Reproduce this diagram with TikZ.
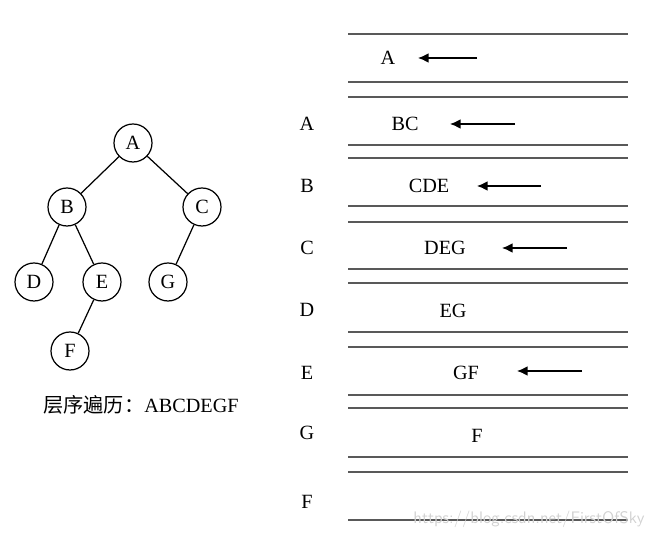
\documentclass[tikz,border=0pt]{standalone}
\usepackage{fontspec}
\setmainfont{Liberation Serif}
\newfontfamily\cjkfont{Noto Sans CJK SC}
\usepackage{tikz}
\usetikzlibrary{positioning,arrows.meta}

\begin{document}
\begin{tikzpicture}[
  x=0.02cm, y=-0.02cm,
  treeNode/.style={circle, draw, line width=0.7pt, minimum size=0.76cm,
                   inner sep=0pt, font=\fontsize{11.5}{13}\selectfont},
  queueLine/.style={draw=black!65, line width=0.85pt},
  queueText/.style={font=\fontsize{11.5}{13}\selectfont, inner sep=0pt},
  rowLabel/.style={font=\fontsize{11.5}{13}\selectfont, inner sep=0pt},
  headArrow/.style={-{Latex[length=6pt,width=5.5pt]}, line width=0.8pt},
  >=Latex
]
  \useasboundingbox (0,0) rectangle (650,540);

  % === Binary tree ===
  \node[treeNode] (tA) at (133,143) {A};
  \node[treeNode] (tB) at (67,207) {B};
  \node[treeNode] (tC) at (202,207) {C};
  \node[treeNode] (tD) at (34,282) {D};
  \node[treeNode] (tE) at (102,282) {E};
  \node[treeNode] (tG) at (168,282) {G};
  \node[treeNode] (tF) at (70,351) {F};
  \draw[line width=0.7pt] (tA) -- (tB) -- (tD);
  \draw[line width=0.7pt] (tB) -- (tE) -- (tF);
  \draw[line width=0.7pt] (tA) -- (tC) -- (tG);
  \node[font=\fontsize{11.5}{13}\selectfont] (caption) at (141,405)
    {{\cjkfont 层序遍历：}ABCDEGF};

  % === Queue snapshots ===
  \draw[queueLine] (348,34) -- (628,34);
  \draw[queueLine] (348,82) -- (628,82);
  \draw[queueLine] (348,97) -- (628,97);
  \draw[queueLine] (348,145) -- (628,145);
  \draw[queueLine] (348,158) -- (628,158);
  \draw[queueLine] (348,206) -- (628,206);
  \draw[queueLine] (348,222) -- (628,222);
  \draw[queueLine] (348,269) -- (628,269);
  \draw[queueLine] (348,283) -- (628,283);
  \draw[queueLine] (348,332) -- (628,332);
  \draw[queueLine] (348,347) -- (628,347);
  \draw[queueLine] (348,395) -- (628,395);
  \draw[queueLine] (348,408) -- (628,408);
  \draw[queueLine] (348,457) -- (628,457);
  \draw[queueLine] (348,472) -- (628,472);
  \draw[queueLine] (348,520) -- (628,520);

  % Dequeued node per step
  \node[rowLabel] (rA) at (307,124) {A};
  \node[rowLabel] (rB) at (307,186) {B};
  \node[rowLabel] (rC) at (307,248) {C};
  \node[rowLabel] (rD) at (307,310) {D};
  \node[rowLabel] (rE) at (307,373) {E};
  \node[rowLabel] (rG) at (307,433) {G};
  \node[rowLabel] (rF) at (307,502) {F};

  % Queue contents
  \node[queueText] (q1) at (388,58) {A};
  \node[queueText] (q2) at (405,124) {BC};
  \node[queueText] (q3) at (429,186) {CDE};
  \node[queueText] (q4) at (445,248) {DEG};
  \node[queueText] (q5) at (453,311) {EG};
  \node[queueText] (q6) at (466,373) {GF};
  \node[queueText] (q7) at (477,436) {F};

  % Arrows at queue head
  \coordinate (t1) at (477,58);  \coordinate (h1) at (418,58);
  \coordinate (t2) at (515,124); \coordinate (h2) at (450,124);
  \coordinate (t3) at (541,186); \coordinate (h3) at (477,186);
  \coordinate (t4) at (567,248); \coordinate (h4) at (502,248);
  \coordinate (t6) at (582,371); \coordinate (h6) at (517,371);
  \draw[headArrow] (t1) -- (h1);
  \draw[headArrow] (t2) -- (h2);
  \draw[headArrow] (t3) -- (h3);
  \draw[headArrow] (t4) -- (h4);
  \draw[headArrow] (t6) -- (h6);

  % Watermark
  \node[font=\sffamily\fontsize{9.5}{11}\selectfont, text=black!18,
        anchor=east, inner sep=0pt] (mark) at (645,519)
    {https://blog.csdn.net/FirstOfSky};
\end{tikzpicture}
\end{document}
